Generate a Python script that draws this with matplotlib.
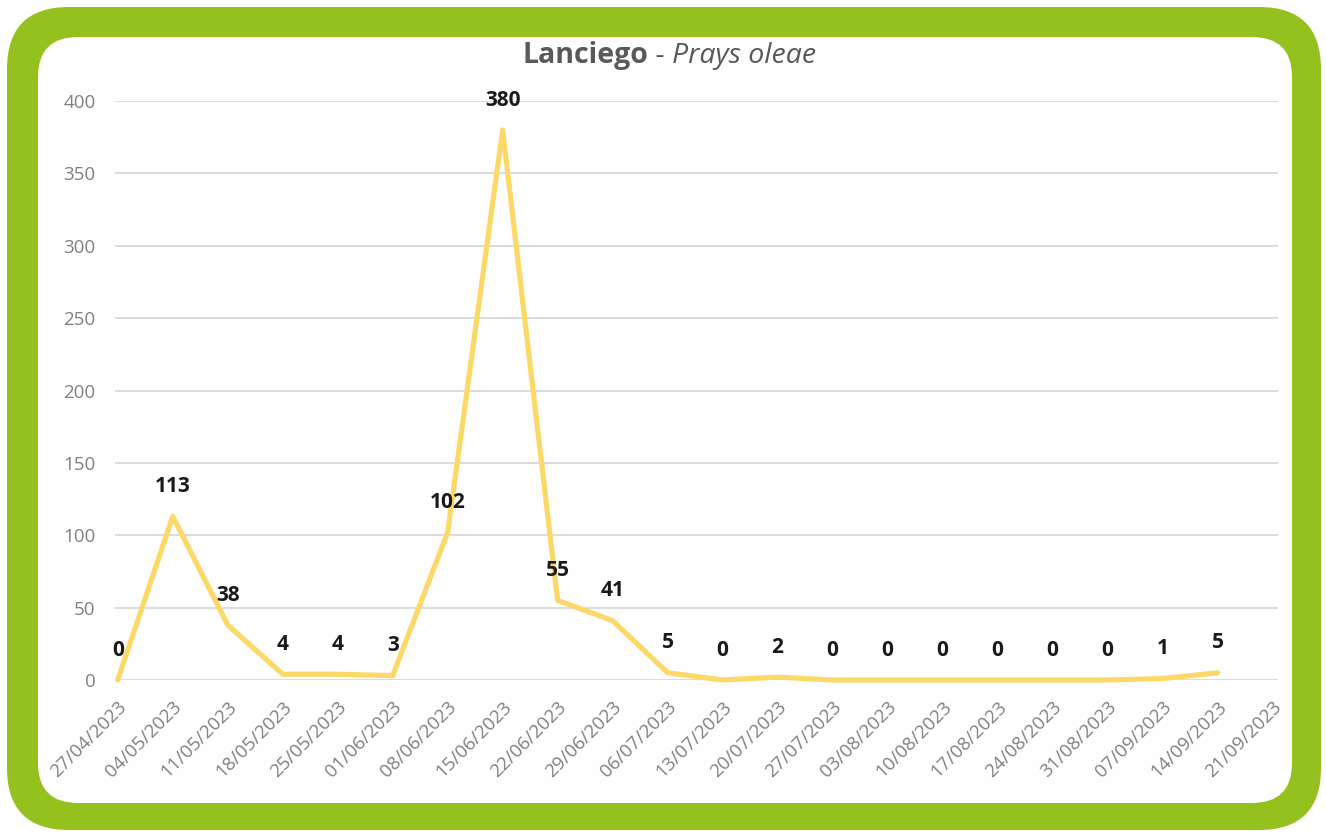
import matplotlib
matplotlib.use("Agg")
import matplotlib.pyplot as plt
from matplotlib.patches import FancyBboxPatch

# weekly trap counts
dates = ["27/04/2023", "04/05/2023", "11/05/2023", "18/05/2023", "25/05/2023",
         "01/06/2023", "08/06/2023", "15/06/2023", "22/06/2023", "29/06/2023",
         "06/07/2023", "13/07/2023", "20/07/2023", "27/07/2023", "03/08/2023",
         "10/08/2023", "17/08/2023", "24/08/2023", "31/08/2023", "07/09/2023",
         "14/09/2023", "21/09/2023"]
counts = [0, 113, 38, 4, 4, 3, 102, 380, 55, 41, 5, 0, 2, 0, 0, 0, 0, 0, 0, 1, 5]
yticks = [0, 50, 100, 150, 200, 250, 300, 350, 400]

GREEN = "#95C11F"
LINE = "#FCD867"
GREY = "#808080"
FONT = "Open Sans"

W, H = 1326, 832
fig = plt.figure(figsize=(W / 100, H / 100), dpi=100)
fig.patch.set_facecolor("white")


def px_box(x0, y0, x1, y1, r, color):
    # box given in pixel coords (top-left origin), drawn in inches
    return FancyBboxPatch((x0 / 100, (H - y1) / 100), (x1 - x0) / 100, (y1 - y0) / 100,
                          boxstyle="round,pad=0,rounding_size=%f" % (r / 100),
                          transform=fig.dpi_scale_trans, facecolor=color,
                          edgecolor="none", zorder=0)


fig.add_artist(px_box(7, 7, 1321, 830, 62, GREEN))
fig.add_artist(px_box(38, 37, 1292, 803, 40, "#FEFEFE"))

ax = fig.add_axes([115 / W, 1 - 680 / H, (1278 - 115) / W, (680 - 101) / H])
ax.set_facecolor("none")
x = list(range(len(counts)))
ax.plot(x, counts, color=LINE, lw=3.7, solid_joinstyle="round", solid_capstyle="round",
        zorder=3, clip_on=False)

for xi, v in zip(x, counts):
    ax.annotate(str(v), (xi, v), xytext=(0, 21.5), textcoords="offset points",
                ha="center", va="center", fontsize=15, fontweight="bold",
                family=FONT, color="#1a1a1a", zorder=4)

ax.set_xlim(-0.05, 21.1)
ax.set_ylim(0, 400)
ax.set_yticks(yticks)
ax.set_xticks(range(len(dates)))
ax.set_xticklabels(dates, rotation=45, ha="right", va="top", rotation_mode="anchor")
ax.tick_params(axis="both", length=0, colors=GREY, labelsize=13.5)
ax.tick_params(axis="y", pad=14)
ax.tick_params(axis="x", pad=13)
for lab in ax.get_xticklabels() + ax.get_yticklabels():
    lab.set_family(FONT)
ax.grid(axis="y", color="#D9D9D9", lw=1.3)
ax.set_axisbelow(True)
for s in ax.spines.values():
    s.set_visible(False)

# title: bold location, italic species
renderer = fig.canvas.get_renderer()
parts = [("Lanciego", "bold", "normal"), (" - ", "normal", "normal"),
         ("Prays oleae", "normal", "italic")]
texts = []
total = 0
for s, w, st in parts:
    t = fig.text(0, 0, s, fontsize=20.5, fontweight=w, fontstyle=st, family=FONT,
                 color="#595959", va="baseline", ha="left")
    wd = t.get_window_extent(renderer).width
    texts.append((t, wd))
    total += wd
xpos = 669 - total / 2
for t, wd in texts:
    t.set_position((xpos / W, 1 - 63 / H))
    xpos += wd

fig.savefig("out.png", dpi=100)
